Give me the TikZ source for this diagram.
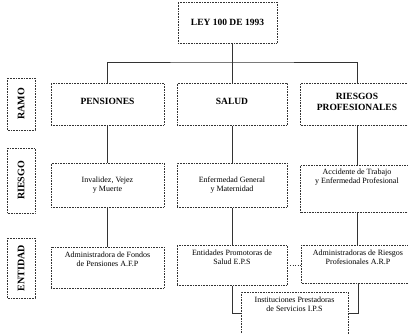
\documentclass[tikz,border=0pt]{standalone}
\usepackage{fontspec}
\setmainfont{Liberation Serif}
\usetikzlibrary{positioning}

\tikzset{
  box/.style={draw=black!80, densely dotted, line width=.6pt, align=center},
  ramobox/.style={box, minimum width=113pt, minimum height=42pt, anchor=north,
    text depth=5pt, font=\bfseries\fontsize{9.5}{11}\selectfont},
  riesgobox/.style={box, minimum width=113pt, minimum height=44pt, anchor=north,
    font=\fontsize{8}{9}\selectfont},
  entbox/.style={box, minimum width=113pt, anchor=north, inner ysep=4pt,
    text height=15pt, font=\fontsize{8}{9}\selectfont},
  fila/.style={box, rotate=90, minimum height=28pt,
    font=\bfseries\fontsize{10}{11}\selectfont},
  linea/.style={draw=black!80, line width=.6pt},
}

\begin{document}
\begin{tikzpicture}[x=1pt, y=-1pt]
    \useasboundingbox (0,0) rectangle (408,334);

    % ley
    \node[box, minimum width=99pt, minimum height=41pt,
      font=\bfseries\fontsize{9.5}{11}\selectfont] (ley) at (227.5,22.5) {LEY 100 DE 1993};

    % filas
    \node[fila, minimum width=52pt] (framo) at (21,104) {RAMO};
    \node[fila, minimum width=65pt] (friesgo) at (21,180.5) {RIESGO};
    \node[fila, minimum width=60pt] (fentidad) at (21,268) {ENTIDAD};

    % ramo
    \node[ramobox] (pen) at (107.5,83) {PENSIONES};
    \node[ramobox, minimum width=110pt] (sal) at (232,83) {SALUD};
    \node[ramobox] (rie) at (357,83) {RIESGOS\\PROFESIONALES};

    % riesgo
    \node[riesgobox] (inv) at (107.5,163) {Invalidez, Vejez\\y Muerte};
    \node[riesgobox, minimum width=110pt] (enf) at (232,163) {Enfermedad General\\y Maternidad};
    \node[riesgobox, text depth=26pt] (acc) at (357,165) {Accidente de Trabajo\\y Enfermedad Profesional};

    % entidad
    \node[entbox, text depth=18pt] (afp) at (107.5,247) {Administradora de Fondos\\de Pensiones A.F.P};
    \node[entbox, minimum width=110pt, text depth=17pt] (eps) at (232,245) {Entidades Promotoras de\\Salud E.P.S};
    \node[entbox, text depth=15pt] (arp) at (358,245) {Administradoras de Riesgos\\Profesionales A.R.P};
    \node[entbox, minimum width=107pt, text depth=19pt] (ips) at (294.5,292) {Instituciones Prestadoras\\de Servicios I.P.S};

    % lineas
    \coordinate (bus) at (232,62);
    \draw[linea] (sal.north |- ley.south) -- (sal.north);
    \draw[linea] (pen.north) |- (bus) -| (rie.north);
    \draw[linea] (pen.south) -- (inv.north);
    \draw[linea] (sal.south) -- (enf.north);
    \draw[linea] (rie.south) -- (acc.north);
    \draw[linea] (inv.south) -- (afp.north);
    \draw[linea] (enf.south) -- (eps.north);
    \draw[linea] (acc.south) -- (acc.south |- arp.north);
    \draw[linea] (eps.south) |- (ips.west);
    \draw[linea] (arp.south) |- (ips.east);
    \draw[linea, dotted] (eps.east) -- (eps.east -| arp.west);
\end{tikzpicture}
\end{document}
